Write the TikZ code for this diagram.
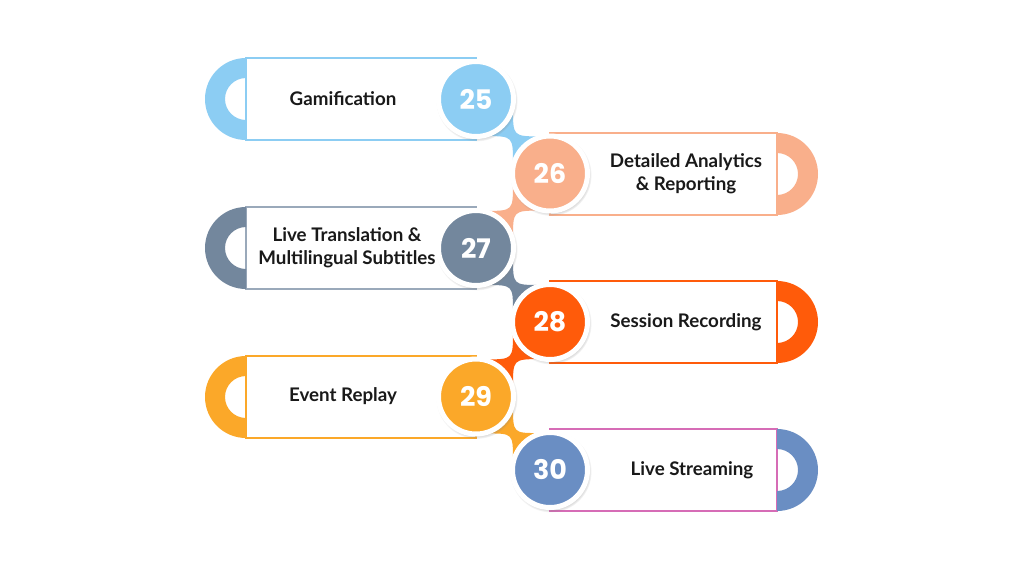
\documentclass[tikz,border=0pt]{standalone}
\usepackage{fontspec}
\usepackage{tikz}
\usepackage{xcolor}
\usetikzlibrary{calc, shadows}
\setmainfont{Lato}
\newfontfamily\numfont{Poppins}

\definecolor{skyblue}{HTML}{8CCDF3}
\definecolor{peach}{HTML}{F9AF8B}
\definecolor{slate}{HTML}{73879D}
\definecolor{slateline}{HTML}{9AA9BA}
\definecolor{blaze}{HTML}{FF5B0A}
\definecolor{amber}{HTML}{FBA829}
\definecolor{steel}{HTML}{6A8EC3}
\definecolor{orchid}{HTML}{D66CB6}

\tikzset{
    numcirc/.style={circle, minimum size=2.25cm, inner sep=0pt, draw=white, line width=0.15cm,
        circular drop shadow={shadow xshift=0.6pt, shadow yshift=-1.2pt, shadow scale=1.09, opacity=0.55},
        text=white, font=\numfont\bfseries\fontsize{23}{23}\selectfont},
    lbl/.style={align=center, font=\bfseries\fontsize{16}{19.5}\selectfont, text=black!90},
    band/.style={line width=1.2pt},
    hub/.style={circle, minimum size=2.3cm, inner sep=0pt, outer sep=0pt},
}

\begin{document}
\begin{tikzpicture}[x=0.03cm, y=-0.03cm]
    \useasboundingbox[fill=white] (0,0) rectangle (1024,576);

    % left bands
    \draw[band, skyblue] (246,58) rectangle (476,140);
    \fill[skyblue] (246,58) arc[start angle=270, end angle=90, radius=41] -- (246,120) arc[start angle=90, end angle=270, radius=21] -- cycle;
    \draw[band, slateline] (246,207) rectangle (476,289);
    \fill[slate] (246,207) arc[start angle=270, end angle=90, radius=41] -- (246,269) arc[start angle=90, end angle=270, radius=21] -- cycle;
    \draw[band, amber] (246,356) rectangle (476,438);
    \fill[amber] (246,356) arc[start angle=270, end angle=90, radius=41] -- (246,418) arc[start angle=90, end angle=270, radius=21] -- cycle;

    % right bands
    \draw[band, peach] (550,133) rectangle (777,215);
    \fill[peach] (777,133) arc[start angle=270, end angle=450, radius=41] -- (777,195) arc[start angle=90, end angle=-90, radius=21] -- cycle;
    \draw[band, blaze] (550,281) rectangle (777,363);
    \fill[blaze] (777,281) arc[start angle=270, end angle=450, radius=41] -- (777,343) arc[start angle=90, end angle=-90, radius=21] -- cycle;
    \draw[band, orchid] (550,429) rectangle (777,511);
    \fill[steel] (777,429) arc[start angle=270, end angle=450, radius=41] -- (777,491) arc[start angle=90, end angle=-90, radius=21] -- cycle;

    % hubs for the links
    \node[hub] (k25) at (476,99) {};
    \node[hub] (k26) at (550,173.5) {};
    \node[hub] (k27) at (476,248) {};
    \node[hub] (k28) at (550,322) {};
    \node[hub] (k29) at (476,396.5) {};
    \node[hub] (k30) at (550,470) {};

    % links between circles
    \fill[skyblue] (k25.-15) .. controls ($(k25)!0.5!(k26)$) .. (k26.105) -- (k26.165) .. controls ($(k25)!0.5!(k26)$) .. (k25.-75) -- cycle;
    \fill[peach] (k26.-105) .. controls ($(k26)!0.5!(k27)$) .. (k27.15) -- (k27.75) .. controls ($(k26)!0.5!(k27)$) .. (k26.-165) -- cycle;
    \fill[slate] (k27.-15) .. controls ($(k27)!0.5!(k28)$) .. (k28.105) -- (k28.165) .. controls ($(k27)!0.5!(k28)$) .. (k27.-75) -- cycle;
    \fill[blaze] (k28.-105) .. controls ($(k28)!0.5!(k29)$) .. (k29.15) -- (k29.75) .. controls ($(k28)!0.5!(k29)$) .. (k28.-165) -- cycle;
    \fill[amber] (k29.-15) .. controls ($(k29)!0.5!(k30)$) .. (k30.105) -- (k30.165) .. controls ($(k29)!0.5!(k30)$) .. (k29.-75) -- cycle;

    % number circles
    \node[numcirc, fill=skyblue] (c25) at (k25) {25};
    \node[numcirc, fill=peach] (c26) at (k26) {26};
    \node[numcirc, fill=slate] (c27) at (k27) {27};
    \node[numcirc, fill=blaze] (c28) at (k28) {28};
    \node[numcirc, fill=amber] (c29) at (k29) {29};
    \node[numcirc, fill=steel] (c30) at (k30) {30};

    % labels
    \node[lbl] (t25) at (343,99) {Gamification};
    \node[lbl] (t26) at (686,173.5) {Detailed Analytics\\\& Reporting};
    \node[lbl] (t27) at (347,248) {Live Translation \&\\Multilingual Subtitles};
    \node[lbl] (t28) at (686,322) {Session Recording};
    \node[lbl] (t29) at (343,396.5) {Event Replay};
    \node[lbl] (t30) at (692,470) {Live Streaming};
\end{tikzpicture}
\end{document}
